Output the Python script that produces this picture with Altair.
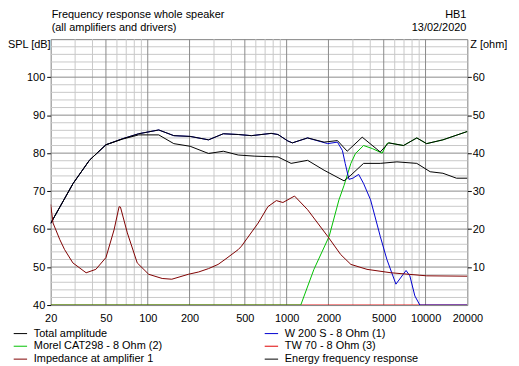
import altair as alt
import pandas as pd

# ---------------- data ----------------
# legend is filled column by column: left column first, then right column
series_names = ["Total amplitude", "Morel CAT298 - 8 Ohm (2)", "Impedance at amplifier 1",
                "W 200 S - 8 Ohm (1)", "TW 70 - 8 Ohm (3)", "Energy frequency response"]
series_colors = ["#000000", "#00c000", "#800000", "#0000d0", "#e00000", "#000000"]

f_total = [20, 29, 38, 50, 66, 86, 120, 154, 202, 274, 350, 448, 558, 774, 866, 1020, 1100,
           1416, 1860, 2321, 2730, 3500, 4720, 5420, 6940, 8650, 10180, 13340, 20000]
total = [61.5, 72.0, 78.1, 82.2, 83.8, 85.1, 86.1, 84.6, 84.4, 83.5, 85.1, 84.9, 84.6, 85.2, 84.9,
         83.2, 82.7, 84.0, 82.9, 83.3, 80.5, 84.2, 80.3, 82.7, 82.0, 84.0, 82.5, 83.5, 85.7]

f_energy = [20, 29, 38, 50, 66, 86, 120, 154, 202, 274, 350, 448, 590, 866, 1077, 1416, 1860,
            2590, 2900, 3580, 4720, 6220, 8650, 10800, 13340, 16700, 20000]
energy = [61.5, 72.0, 78.1, 82.2, 83.7, 84.8, 84.8, 82.5, 81.8, 79.9, 80.5, 79.5, 79.2, 79.0,
          77.3, 78.1, 75.5, 72.7, 74.2, 77.3, 77.3, 77.7, 77.3, 75.1, 74.7, 73.4, 73.4]

f_woofer = [20, 29, 38, 50, 66, 86, 120, 154, 202, 274, 350, 448, 558, 774, 866, 1020, 1100,
            1416, 1974, 2321, 2520, 2640, 2810, 3000, 3300, 3580, 4020, 4720, 5270, 6120,
            7240, 7710, 8380, 9100, 20000]
woofer = [61.5, 72.0, 78.1, 82.2, 83.8, 85.1, 86.1, 84.6, 84.4, 83.5, 85.1, 84.9, 84.6, 85.2,
          84.9, 83.2, 82.7, 84.0, 82.5, 82.9, 80.7, 77.3, 73.1, 73.4, 74.4, 72.0, 67.7, 58.1,
          52.0, 45.5, 49.1, 47.7, 42.4, 40.0, 40.0]

f_morel = [20, 1264, 1572, 2024, 2380, 2590, 2900, 3130, 3580, 4140, 4870, 5270,
           5420, 6940, 8650, 10180, 13340, 20000]
morel = [40.0, 40.0, 49.4, 58.1, 67.7, 71.5, 77.3, 79.9, 82.0, 81.2, 80.0, 82.5,
         82.7, 82.0, 84.0, 82.5, 83.5, 85.7]

f_tw = [20, 20000]
tw = [40.0, 40.0]

f_imp = [20, 20.8, 23.3, 25.2, 28.9, 36, 42.3, 50, 57.2, 62.2, 63.6, 71.3, 84, 101.6, 127,
         149, 196, 232, 274, 321, 360, 448, 473, 624, 733, 843, 940, 1140, 1416, 1974, 2450,
         2900, 3790, 5640, 10180, 20000]
imp = [26.5, 21.6, 17.2, 14.6, 11.1, 8.5, 9.4, 12.5, 19.8, 25.9, 25.8, 19.0, 11.1, 8.1, 7.0,
       6.8, 8.1, 8.7, 9.6, 10.7, 12.0, 14.6, 15.5, 21.6, 25.9, 27.5, 27.0, 28.7, 25.1, 18.1,
       13.3, 10.7, 9.4, 8.5, 7.7, 7.6]

x_ticks = [20, 50, 100, 200, 500, 1000, 2000, 5000, 10000, 20000]
x_minor = [30, 40, 60, 70, 80, 90, 300, 400, 600, 700, 800, 900,
           3000, 4000, 6000, 7000, 8000, 9000]
x_major = [50, 100, 200, 500, 1000, 2000, 5000, 10000]
spl_ticks = [40, 50, 60, 70, 80, 90, 100]
spl_minor = [v for v in range(42, 110, 2) if v % 10 != 0]
spl_major = [50, 60, 70, 80, 90, 100]
z_ticks = [10, 20, 30, 40, 50, 60]

title_1 = "Frequency response whole speaker"
title_2 = "(all amplifiers and drivers)"
tag_1 = "HB1"
tag_2 = "13/02/2020"
y_title_left = "SPL [dB]"
y_title_right = "Z [ohm]"

# ---------------- chart ----------------
FONT = "Liberation Sans"
W, H = 420, 268

xscale = alt.Scale(type="log", domain=[20, 20000], nice=False)
yscale = alt.Scale(domain=[40, 110], nice=False, zero=False)
zscale = alt.Scale(domain=[0, 70], nice=False, zero=False)
cscale = alt.Scale(domain=series_names, range=series_colors)
legend = alt.Legend(title=None, orient="none", legendX=-38, legendY=289,
                    columns=2, columnPadding=100, rowPadding=0,
                    symbolType="stroke", symbolSize=182,
                    symbolStrokeWidth=1, labelOffset=6,
                    labelFontSize=11, labelFont=FONT,
                    labelColor="#000000", padding=0, labelLimit=300)

X = alt.X("f:Q", scale=xscale,
          axis=alt.Axis(values=x_ticks, format="d", title=None, ticks=False, domain=False,
                        labelPadding=8, labelFlush=False, labelOverlap=False, grid=False,
                        labelFontSize=11, labelColor="#000000"))
C = alt.Color("s:N", scale=cscale, legend=legend)


def line(freqs, vals, name):
    df = pd.DataFrame({"f": freqs, "v": vals, "s": name})
    return alt.Chart(df).mark_line(strokeWidth=1, clip=True).encode(
        x=X, y=alt.Y("v:Q", scale=yscale), color=C)


def hrules(vals, color):
    return alt.Chart(pd.DataFrame({"v": vals})).mark_rule(color=color, strokeWidth=1).encode(
        y=alt.Y("v:Q", scale=yscale), x=alt.value(0), x2=alt.value(W))


def vrules(vals, color):
    return alt.Chart(pd.DataFrame({"f": vals})).mark_rule(color=color, strokeWidth=1).encode(
        x=X, y=alt.value(0), y2=alt.value(H))


# left axis carrier
left_axis = alt.Chart(pd.DataFrame({"v": [40]})).mark_point(opacity=0).encode(
    y=alt.Y("v:Q", scale=yscale,
            axis=alt.Axis(values=spl_ticks, title=None,
                          tickSize=4, tickColor="#000000", labelPadding=2, labelFlush=False,
                          labelFontSize=11, labelColor="#000000", domain=False, grid=False)))


def text(t, x, y, align, baseline="middle"):
    return alt.Chart(pd.DataFrame({"t": [t]})).mark_text(
        align=align, baseline=baseline, font=FONT, fontSize=11, color="#000000").encode(
        x=alt.value(x), y=alt.value(y), text="t:N")


left = alt.layer(
    hrules(spl_minor, "#c8c8c8"), vrules(x_minor, "#c8c8c8"),
    hrules(spl_major, "#8a8a8a"), vrules(x_major, "#8a8a8a"),
    left_axis,
    line(f_tw, tw, "TW 70 - 8 Ohm (3)"),
    line(f_morel, morel, "Morel CAT298 - 8 Ohm (2)"),
    line(f_woofer, woofer, "W 200 S - 8 Ohm (1)"),
    line(f_energy, energy, "Energy frequency response"),
    line(f_total, total, "Total amplitude"),
    text(title_1, 1, -30, "left", "top"),
    text(title_2, 1, -11, "left"),
    text(tag_1, 419, -30, "right", "top"),
    text(tag_2, 419, -11, "right"),
    text(y_title_left, -43, 5.5, "left"),
    text(y_title_right, 423, 5.5, "left"),
)

right = alt.Chart(pd.DataFrame({"f": f_imp, "v": imp, "s": "Impedance at amplifier 1"})).mark_line(
    strokeWidth=1, clip=True).encode(
    x=X,
    y=alt.Y("v:Q", scale=zscale,
            axis=alt.Axis(orient="right", values=z_ticks, title=None,
                          tickSize=4, tickColor="#000000",
                          labelPadding=1, labelFlush=False, labelFontSize=11,
                          labelColor="#000000", domain=False, grid=False)),
    color=C,
)

chart = alt.layer(left, right).resolve_scale(y="independent").properties(
    width=W, height=H,
    padding={"left": 43, "top": 30, "right": 44, "bottom": 60},
    autosize=alt.AutoSizeParams(type="none"),
).configure(font=FONT).configure_view(stroke="#808080", strokeWidth=1).configure_axis(
    labelFont=FONT)

chart.save("out.html", embed_options={"renderer": "svg", "actions": False})
